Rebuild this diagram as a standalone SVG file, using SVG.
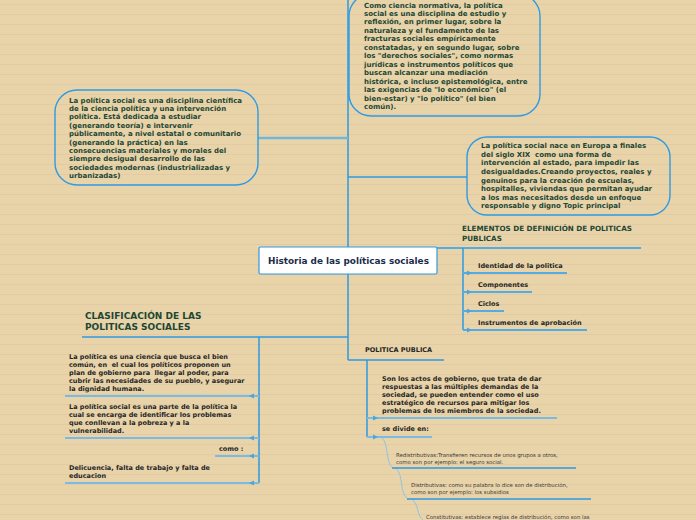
<svg xmlns="http://www.w3.org/2000/svg" width="696" height="520" viewBox="0 0 696 520">
<defs>
<pattern id="ruled" x="0" y="0" width="696" height="10" patternUnits="userSpaceOnUse">
<rect width="696" height="10" fill="#e9d4a9"/>
<line x1="0" y1="4.5" x2="696" y2="4.5" stroke="#e1caa5" stroke-width="1"/>
</pattern>
<style>
.box{fill:none;stroke:#2e9ae4;stroke-width:1.4}
.bt{font-family:"DejaVu Sans","Verdana",sans-serif;font-weight:bold;font-size:7px;fill:#1d4735;white-space:pre}
.it{font-family:"DejaVu Sans","Verdana",sans-serif;font-weight:bold;font-size:6.5px;fill:#262626;white-space:pre}
.hd{font-family:"DejaVu Sans","Verdana",sans-serif;font-weight:bold;fill:#1d4735}
.sm{font-family:"DejaVu Sans","Verdana",sans-serif;font-size:5.4px;fill:#3a3a3a}
.trunk{stroke:#2a9ae2;stroke-width:1.5;fill:none}
.ul{stroke:#55ace2;stroke-width:2;fill:none}
.ul2{stroke:#79bbe2;stroke-width:2;fill:none}
.cv{stroke:#8ec4e2;stroke-width:1;fill:none}
.ah{fill:#4aa6e2}
</style>
</defs>
<rect width="696" height="520" fill="url(#ruled)"/>

<g id="connectors">
<line class="trunk" x1="348" y1="0" x2="348" y2="360"/>
<line stroke="#74b6d8" stroke-width="2.5" x1="258" y1="138" x2="348" y2="138"/>
<line class="trunk" x1="348" y1="177" x2="467" y2="177"/>
<line class="ul" x1="437" y1="248" x2="641" y2="248"/>
<line class="trunk" x1="463" y1="248" x2="463" y2="330"/>
<line class="ul" x1="463" y1="273" x2="567" y2="273"/>
<line class="ul" x1="463" y1="292" x2="532" y2="292"/>
<line class="ul" x1="463" y1="311" x2="504" y2="311"/>
<line class="ul" x1="463" y1="330" x2="587" y2="330"/>
<polygon class="ah" points="467,270.5 472,273 467,275.5"/>
<polygon class="ah" points="467,289.5 472,292 467,294.5"/>
<polygon class="ah" points="467,308.5 472,311 467,313.5"/>
<polygon class="ah" points="467,327.5 472,330 467,332.5"/>
<line class="trunk" x1="82" y1="337" x2="348" y2="337"/>
<line class="trunk" x1="259" y1="337" x2="259" y2="483"/>
<line class="ul2" x1="65" y1="396" x2="259" y2="396"/>
<line class="ul2" x1="65" y1="438" x2="259" y2="438"/>
<line class="ul2" x1="215" y1="456" x2="259" y2="456"/>
<line class="ul2" x1="65" y1="483" x2="259" y2="483"/>
<polygon class="ah" points="254,393.5 249,396 254,398.5"/>
<polygon class="ah" points="254,435.5 249,438 254,440.5"/>
<polygon class="ah" points="254,453.5 249,456 254,458.5"/>
<polygon class="ah" points="254,480.5 249,483 254,485.5"/>
<line class="trunk" x1="348" y1="360" x2="444" y2="360"/>
<line class="trunk" x1="367" y1="360" x2="367" y2="437"/>
<line class="ul2" x1="367" y1="418" x2="557" y2="418"/>
<line class="ul2" x1="367" y1="437" x2="432" y2="437"/>
<polygon class="ah" points="373,415.5 378,418 373,420.5"/>
<polygon class="ah" points="373,434.5 378,437 373,439.5"/>
<path class="cv" d="M382,438 C389,444 385,462 393,468"/>
<path class="cv" d="M396,468 C404,476 399,493 408,499"/>
<path class="cv" d="M412,499 C420,507 416,515 424,521"/>
<line class="trunk" x1="392" y1="468" x2="576" y2="468"/>
<line class="trunk" x1="407" y1="499" x2="591" y2="499"/>
</g>

<g id="n-top">
<rect class="box" x="349" y="-6" width="191" height="122" rx="22"/>
<text class="bt" x="364" y="7.5">Como ciencia normativa, la política</text>
<text class="bt" x="364" y="16">social es una disciplina de estudio y</text>
<text class="bt" x="364" y="24.4">reflexión, en primer lugar, sobre la</text>
<text class="bt" x="364" y="32.9">naturaleza y el fundamento de las</text>
<text class="bt" x="364" y="41.3">fracturas sociales empíricamente</text>
<text class="bt" x="364" y="49.8">constatadas, y en segundo lugar, sobre</text>
<text class="bt" x="364" y="58.3">los "derechos sociales", como normas</text>
<text class="bt" x="364" y="66.7">jurídicas e instrumentos políticos que</text>
<text class="bt" x="364" y="75.2">buscan alcanzar una mediación</text>
<text class="bt" x="364" y="83.6">histórica, e incluso epistemológica, entre</text>
<text class="bt" x="364" y="92.1">las exigencias de "lo económico" (el</text>
<text class="bt" x="364" y="100.5">bien-estar) y "lo político" (el bien</text>
<text class="bt" x="364" y="109">común).</text>
</g>

<g id="n-left">
<rect class="box" x="55" y="90" width="203" height="95" rx="22"/>
<text class="bt" x="69" y="102.5">La política social es una disciplina científica</text>
<text class="bt" x="69" y="110.9">de la ciencia política y una intervención</text>
<text class="bt" x="69" y="119.3">política. Está dedicada a estudiar</text>
<text class="bt" x="69" y="127.7">(generando teoría) e intervenir</text>
<text class="bt" x="69" y="136.1">públicamente, a nivel estatal o comunitario</text>
<text class="bt" x="69" y="144.5">(generando la práctica) en las</text>
<text class="bt" x="69" y="152.9">consecuencias materiales y morales del</text>
<text class="bt" x="69" y="161.3">siempre desigual desarrollo de las</text>
<text class="bt" x="69" y="169.7">sociedades modernas (industrializadas y</text>
<text class="bt" x="69" y="178.1">urbanizadas)</text>
</g>

<g id="n-right">
<rect class="box" x="467" y="137" width="203" height="78" rx="20"/>
<text class="bt" x="481" y="148.3">La política social nace en Europa a finales</text>
<text class="bt" x="481" y="156.9">del siglo XIX  como una forma de</text>
<text class="bt" x="481" y="165.4">intervención al estado, para impedir las</text>
<text class="bt" x="481" y="174">desigualdades.Creando proyectos, reales y</text>
<text class="bt" x="481" y="182.6">genuinos para la creación de escuelas,</text>
<text class="bt" x="481" y="191.2">hospitalles, viviendas que permitan ayudar</text>
<text class="bt" x="481" y="199.7">a los mas necesitados desde un enfoque</text>
<text class="bt" x="481" y="208.3">responsable y digno Topic principal</text>
</g>

<g id="n-center">
<rect x="259" y="247" width="178" height="27" fill="#ffffff" stroke="#3399dd" stroke-width="1.2" rx="1.5"/>
<text x="268" y="264" font-family="DejaVu Sans, Verdana, sans-serif" font-weight="bold" font-size="8.9" fill="#1b2b4b">Historia de las políticas sociales</text>
</g>

<g id="n-elementos">
<text class="hd" font-size="7.2" x="462" y="231">ELEMENTOS DE DEFINICIÓN DE POLITICAS</text>
<text class="hd" font-size="7.2" x="462" y="240.5">PUBLICAS</text>
</g>
<g id="n-identidad"><text class="it" x="478" y="268.3">Identidad de la politica</text></g>
<g id="n-componentes"><text class="it" x="478" y="287.3">Componentes</text></g>
<g id="n-ciclos"><text class="it" x="478" y="306">Ciclos</text></g>
<g id="n-instrumentos"><text class="it" x="478" y="325">Instrumentos de aprobación</text></g>

<g id="n-clasificacion">
<text class="hd" font-size="9" x="85" y="318.5">CLASIFICACIÓN DE LAS</text>
<text class="hd" font-size="9" x="85" y="329.5">POLITICAS SOCIALES</text>
</g>
<g id="n-ciencia">
<text class="it" x="69" y="358.5">La política es una ciencia que busca el bien</text>
<text class="it" x="69" y="366.7">común, en  el cual los políticos proponen un</text>
<text class="it" x="69" y="374.9">plan de gobierno para  llegar al poder, para</text>
<text class="it" x="69" y="383.1">cubrir las necesidades de su pueblo, y asegurar</text>
<text class="it" x="69" y="391.3">la dignidad humana.</text>
</g>
<g id="n-parte">
<text class="it" x="69" y="409.3">La política social es una parte de la política la</text>
<text class="it" x="69" y="417.3">cual se encarga de identificar los problemas</text>
<text class="it" x="69" y="425.3">que conllevan a la pobreza y a la</text>
<text class="it" x="69" y="433.3">vulnerabilidad.</text>
</g>
<g id="n-como"><text class="it" x="219" y="451">como :</text></g>
<g id="n-delicuencia">
<text class="it" x="69" y="470">Delicuencia, falta de trabajo y falta de</text>
<text class="it" x="69" y="477.8">educacion</text>
</g>

<g id="n-politica-publica"><text class="it" font-size="7.2" x="365" y="352.3">POLITICA PUBLICA</text></g>
<g id="n-actos">
<text class="it" x="382" y="381">Son los actos de gobierno, que trata de dar</text>
<text class="it" x="382" y="388.9">respuestas a las múltiples demandas de la</text>
<text class="it" x="382" y="396.8">sociedad, se pueden entender como el uso</text>
<text class="it" x="382" y="404.7">estratégico de recursos para mitigar los</text>
<text class="it" x="382" y="412.6">problemas de los miembros de la sociedad.</text>
</g>
<g id="n-divide"><text class="it" x="382" y="430.7">se divide en:</text></g>
<g id="n-redistributivas">
<text class="sm" x="396" y="456.5">Redistributivas:Transfieren recursos de unos grupos a otros,</text>
<text class="sm" x="396" y="463.7">como son por ejemplo: el seguro social.</text>
</g>
<g id="n-distributivas">
<text class="sm" x="411" y="487.3">Distributivas: como su palabra lo dice son de distribución,</text>
<text class="sm" x="411" y="494.3">como son por ejemplo: los subsidios</text>
</g>
<g id="n-constitutivas">
<text class="sm" x="426" y="518.7">Constitutivas: establece reglas de distribución, como son las</text>
</g>
</svg>
